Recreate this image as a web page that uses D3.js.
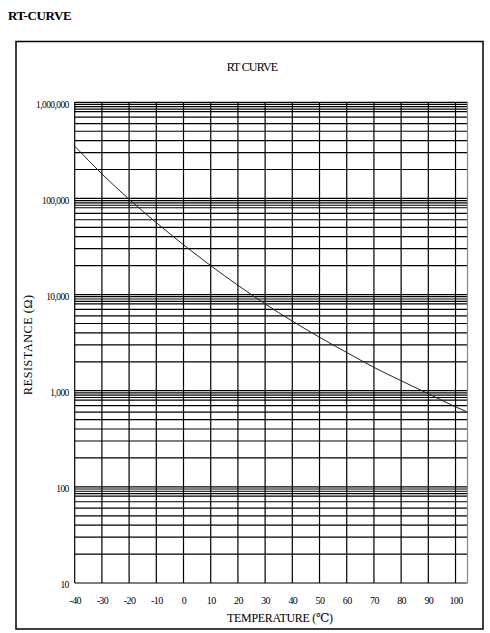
<!DOCTYPE html>
<html>
<head>
<meta charset="utf-8">
<script src="https://cdn.jsdelivr.net/npm/d3@7"></script>
<style>
  body { margin: 0; background: #fff; }
  svg { display: block; }
  text { font-family: "Liberation Serif", "DejaVu Serif", serif; fill: #000; }
</style>
</head>
<body>
<div id="chart"></div>
<script>
// temperature (°C) and resistance (Ω)
var temps = [-40, -30, -20, -10, 0, 10, 20, 30, 40, 50, 60, 70, 80, 90, 100, 105];
var resistance = [350000, 180000, 98000, 56000, 33000, 20000, 12500, 8000, 5300, 3600, 2500, 1750, 1270, 930, 680, 590];

var xTicks = [-40, -30, -20, -10, 0, 10, 20, 30, 40, 50, 60, 70, 80, 90, 100];
var yDecades = [10, 100, 1000, 10000, 100000, 1000000];
var yLabels = ["10", "100", "1,000", "10,000", "100,000", "1,000,000"];
var minorSteps = [2, 3, 4, 5, 6, 7, 8, 8.5, 9, 9.5];

var width = 490, height = 633;
var plotLeft = 74.7, plotRight = 467.5, plotTop = 102.3, plotBottom = 583;

var svg = d3.select("#chart")
    .append("svg")
    .attr("width", width)
    .attr("height", height);

var x = d3.scaleLinear().domain([-40, 104.4]).range([plotLeft, plotRight]);
var y = d3.scaleLog().domain([10, 1000000]).range([plotBottom, plotTop]);

// page heading
svg.append("text")
    .attr("x", 8).attr("y", 20)
    .style("font-size", "13px").style("font-weight", "bold")
    .style("letter-spacing", "-0.4px")
    .text("RT-CURVE");

// outer frame
svg.append("rect")
    .attr("x", 16).attr("y", 41.5)
    .attr("width", 467).attr("height", 587.5)
    .attr("fill", "none").attr("stroke", "#000").attr("stroke-width", 1.5);

svg.append("text")
    .attr("x", 252).attr("y", 71)
    .attr("text-anchor", "middle")
    .style("font-size", "12px").style("letter-spacing", "-0.8px")
    .text("RT CURVE");

// horizontal grid: decades and minor lines
var hLines = [];
yDecades.forEach(function (d, i) {
    hLines.push(d);
    if (i < yDecades.length - 1) {
        minorSteps.forEach(function (m) { hLines.push(d * m); });
    }
});

svg.append("g").selectAll("line")
    .data(hLines)
    .enter()
    .append("line")
    .attr("x1", plotLeft).attr("x2", plotRight)
    .attr("y1", function (d) { return y(d); })
    .attr("y2", function (d) { return y(d); })
    .attr("stroke", "#000")
    .attr("stroke-width", 1.2);

// vertical grid
svg.append("g").selectAll("line")
    .data(xTicks)
    .enter()
    .append("line")
    .attr("x1", function (d) { return x(d); })
    .attr("x2", function (d) { return x(d); })
    .attr("y1", plotTop).attr("y2", plotBottom)
    .attr("stroke", "#000")
    .attr("stroke-width", 1.2);

// right edge is lighter
svg.append("line")
    .attr("x1", plotRight).attr("x2", plotRight)
    .attr("y1", plotTop).attr("y2", plotBottom)
    .attr("stroke", "#888").attr("stroke-width", 1.2);

// axes (labels only)
var xAxis = svg.append("g")
    .attr("transform", "translate(0," + plotBottom + ")")
    .call(d3.axisBottom(x).tickValues(xTicks).tickSize(0).tickPadding(14)
        .tickFormat(function (d) { return d; }));
xAxis.select(".domain").remove();
xAxis.selectAll("text")
    .style("font-family", "Liberation Serif, serif")
    .style("font-size", "10px").style("letter-spacing", "-0.6px");

var yAxis = svg.append("g")
    .attr("transform", "translate(" + plotLeft + ",0)")
    .call(d3.axisLeft(y).tickValues(yDecades).tickSize(0).tickPadding(6)
        .tickFormat(function (d, i) { return yLabels[i]; }));
yAxis.select(".domain").remove();
yAxis.selectAll("text")
    .attr("dy", "0.5em")
    .style("font-family", "Liberation Serif, serif")
    .style("font-size", "9.5px").style("letter-spacing", "-0.6px");

// axis titles
svg.append("text")
    .attr("x", 280).attr("y", 622)
    .attr("text-anchor", "middle")
    .attr("textLength", 106)
    .style("font-size", "12px")
    .text("TEMPERATURE (\u2103)");

svg.append("text")
    .attr("transform", "translate(32,345) rotate(-90)")
    .attr("text-anchor", "middle")
    .attr("textLength", 100)
    .style("font-size", "12px")
    .text("RESISTANCE (\u03A9)");

// curve
svg.append("clipPath").attr("id", "plot-clip")
    .append("rect")
    .attr("x", plotLeft).attr("y", plotTop)
    .attr("width", plotRight - plotLeft).attr("height", plotBottom - plotTop);

var line = d3.line()
    .x(function (d, i) { return x(temps[i]); })
    .y(function (d) { return y(d); })
    .curve(d3.curveMonotoneX);

svg.append("path")
    .datum(resistance)
    .attr("clip-path", "url(#plot-clip)")
    .attr("d", line)
    .attr("fill", "none")
    .attr("stroke", "#222")
    .attr("stroke-width", 1);
</script>
</body>
</html>
